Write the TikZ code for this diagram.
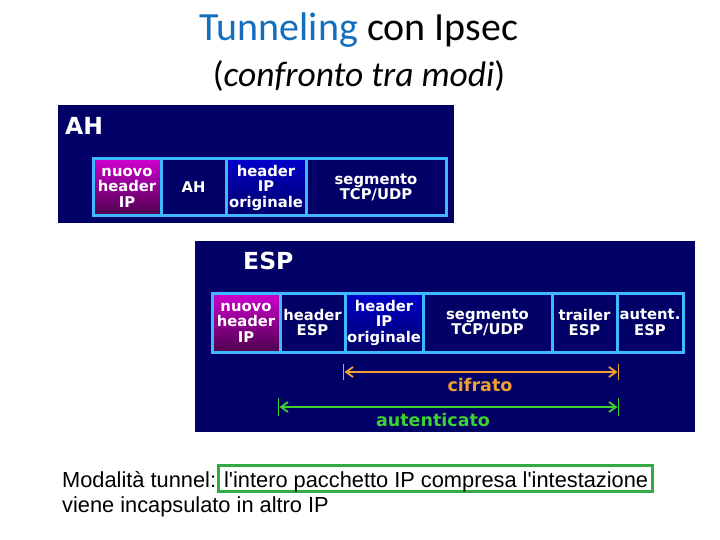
\documentclass[tikz,border=0pt]{standalone}
\usepackage{fontspec}
\setmainfont{Carlito}
\newfontfamily\verd{DejaVu Sans}
\newfontfamily\arialf{Liberation Sans}
\usetikzlibrary{arrows.meta}
\definecolor{navy}{RGB}{0,0,102}
\definecolor{cellblue}{RGB}{60,185,255}
\definecolor{titleblue}{RGB}{20,110,190}
\definecolor{cifcol}{RGB}{240,160,50}
\definecolor{autcol}{RGB}{60,210,50}
\definecolor{boxgreen}{RGB}{50,170,70}
\tikzset{
  panel/.style={fill=navy, draw=none},
  cell/.style={draw=cellblue, line width=3pt, fill=navy, inner sep=0pt, align=center,
    text=white, font=\verd\bfseries\fontsize{14.8}{15.5}\selectfont},
  newip/.style={cell, top color=violet!20!magenta!90!black, bottom color=violet!60!black},
  origip/.style={cell, top color=blue!80!black, bottom color=navy},
  biglabel/.style={text=white, font=\verd\bfseries\fontsize{23.5}{28}\selectfont, inner sep=0pt},
  rangelbl/.style={font=\verd\bfseries\fontsize{17.5}{20}\selectfont, inner sep=0pt},
  tick/.style={line width=1.8pt},
  rng/.style={line width=1.8pt, {Straight Barb[length=7pt,width=10pt]}-{Straight Barb[length=7pt,width=10pt]}},
  btext/.style={anchor=base west, inner sep=0pt, font=\arialf\fontsize{21.8}{26}\selectfont}
}
\begin{document}
\begin{tikzpicture}[x=1pt,y=-1pt]
\useasboundingbox[fill=white] (0,0) rectangle (720,540);
% title
\node[font=\fontsize{40}{46}\selectfont, inner sep=0pt] (title) at (359,30)
  {\textcolor{titleblue}{Tunneling} con Ipsec};
\node[font=\fontsize{35.5}{40}\selectfont, inner sep=0pt] (subtitle) at (359,76)
  {(\textit{confronto tra modi})};
% AH panel
\fill[panel] (58,105) rectangle (454,223);
\node[biglabel, anchor=west] (ahlbl) at (65,126) {AH};
\node[newip, minimum width=68pt, minimum height=57pt] (a1) at (127,187.5) {nuovo\\header\\IP};
\node[cell, minimum width=65pt, minimum height=57pt] (a2) at (193.5,187.5) {AH};
\node[origip, minimum width=80pt, minimum height=57pt] (a3) at (266,187.5) {header\\IP\\originale};
\node[cell, minimum width=140pt, minimum height=57pt] (a4) at (376,187.5) {segmento\\TCP/UDP};
% ESP panel
\fill[panel] (195,241) rectangle (695,432);
\node[biglabel, anchor=west] (esplbl) at (243,261) {ESP};
\node[newip, minimum width=68pt, minimum height=59pt] (e1) at (246,322.5) {nuovo\\header\\IP};
\node[cell, minimum width=65pt, minimum height=59pt] (e2) at (312.5,322.5) {header\\ESP};
\node[origip, minimum width=78pt, minimum height=59pt] (e3) at (384,322.5) {header\\IP\\originale};
\node[cell, minimum width=129pt, minimum height=59pt] (e4) at (487.5,322.5) {segmento\\TCP/UDP};
\node[cell, minimum width=65pt, minimum height=59pt] (e5) at (584.5,322.5) {trailer\\ESP};
\node[cell, minimum width=66pt, minimum height=59pt] (e6) at (650,322.5) {autent.\\ESP};
% cifrato
\coordinate (c1) at (e3.west |- 0,372);
\coordinate (c2) at (e5.east |- 0,372);
\draw[tick, cifcol] ([yshift=-8pt]c1) -- ([yshift=8pt]c1);
\draw[tick, cifcol] ([yshift=-8pt]c2) -- ([yshift=8pt]c2);
\draw[rng, cifcol] ([xshift=1pt]c1) -- ([xshift=-1pt]c2);
\node[rangelbl, text=cifcol] (ciflbl) at (480,385) {cifrato};
% autenticato
\coordinate (u1) at (e2.west |- 0,407);
\coordinate (u2) at (e5.east |- 0,407);
\draw[tick, autcol] ([yshift=-9pt]u1) -- ([yshift=9pt]u1);
\draw[tick, autcol] ([yshift=-9pt]u2) -- ([yshift=9pt]u2);
\draw[rng, autcol] ([xshift=1pt]u1) -- ([xshift=-1pt]u2);
\node[rangelbl, text=autcol] (autlbl) at (433,420) {autenticato};
% bottom text
\node[draw=boxgreen, line width=3pt, minimum width=434pt, minimum height=26pt, inner sep=0pt] (gbox) at (435,478.5) {};
\node[btext] (bline1) at (62,487) {Modalità tunnel: l'intero pacchetto IP compresa l'intestazione};
\node[btext] (bline2) at (62,512) {viene incapsulato in altro IP};
\end{tikzpicture}
\end{document}
